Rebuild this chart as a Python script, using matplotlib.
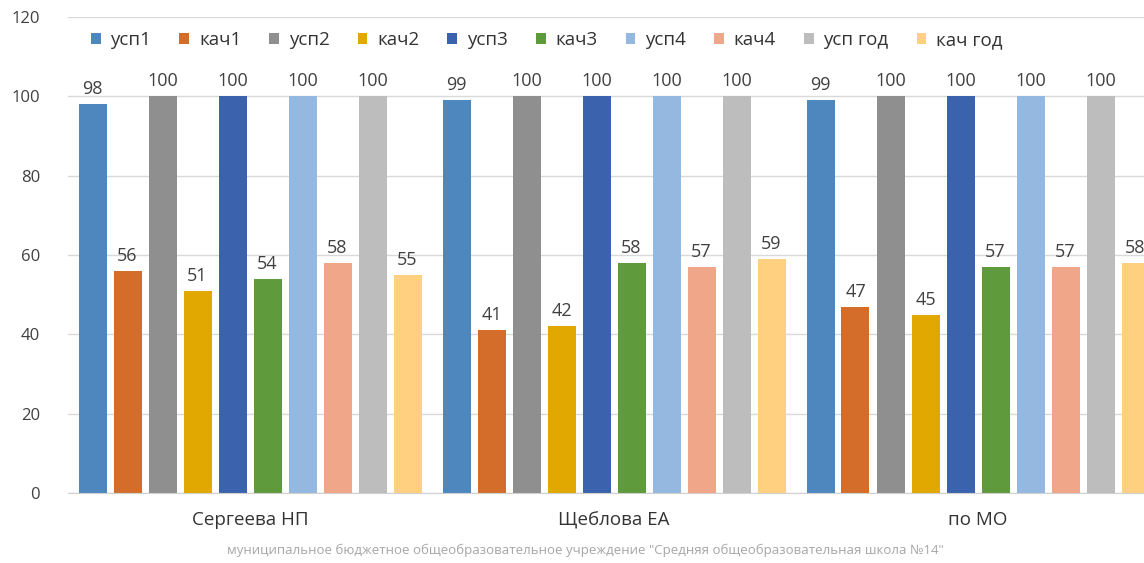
import matplotlib.pyplot as plt
import numpy as np

plt.rcParams['font.family'] = ['Open Sans', 'DejaVu Sans']

groups = ['Сергеева НП', 'Щеблова ЕА', 'по МО']
series = ['усп1', 'кач1', 'усп2', 'кач2', 'усп3', 'кач3', 'усп4', 'кач4', 'усп год', 'кач год']
values = [
    [98, 99, 99],     # усп1
    [56, 41, 47],     # кач1
    [100, 100, 100],  # усп2
    [51, 42, 45],     # кач2
    [100, 100, 100],  # усп3
    [54, 58, 57],     # кач3
    [100, 100, 100],  # усп4
    [58, 57, 57],     # кач4
    [100, 100, 100],  # усп год
    [55, 59, 58],     # кач год
]
colors = ['#4e87bd', '#d46d2a', '#8f8f8f', '#e0a800', '#3a62ad',
          '#5f9a3d', '#95b8e0', '#f0a688', '#bdbdbd', '#ffd080']
footer = 'муниципальное бюджетное общеобразовательное учреждение "Средняя общеобразовательная школа №14"'

fig = plt.figure(figsize=(11.44, 5.63), dpi=100)
ax = fig.add_axes([68 / 1144, 70 / 563, 1092 / 1144, 476 / 563])

x = np.arange(len(groups))
pitch = 35 / 364
width = 28 / 364
for k, (name, vals, c) in enumerate(zip(series, values, colors)):
    pos = x + (k - 4.5) * pitch
    bars = ax.bar(pos, vals, width, color=c, label=name, zorder=2)
    for b, v in zip(bars, vals):
        ax.text(b.get_x() + b.get_width() / 2, v + 1.5, str(v), ha='center',
                va='bottom', fontsize=13, color='#404040')

ax.set_xlim(-0.5, 2.5)
ax.set_ylim(0, 120)
ax.set_yticks(range(0, 121, 20))
ax.set_xticks(x)
ax.set_xticklabels(groups, fontsize=13.5, color='#333333')
ax.tick_params(axis='y', labelsize=12, colors='#404040', length=0, pad=20)
ax.tick_params(axis='x', length=0, pad=13)
ax.grid(axis='y', color='#d9d9d9', lw=1, zorder=0)
for s in ['top', 'right', 'left']:
    ax.spines[s].set_visible(False)
ax.spines['bottom'].set_color('#d0d0d0')

ax.legend(ncol=10, loc='center left', bbox_to_anchor=(0.0055, 0.952), frameon=False,
          fontsize=13.5, handlelength=0.52, handleheight=0.52, handletextpad=0.52,
          columnspacing=1.5, labelcolor='#333333')

fig.text(0.512, 0.023, footer, ha='center', va='center', fontsize=9.5, color='#a6a6a6')

fig.savefig('out.png', dpi=100)
